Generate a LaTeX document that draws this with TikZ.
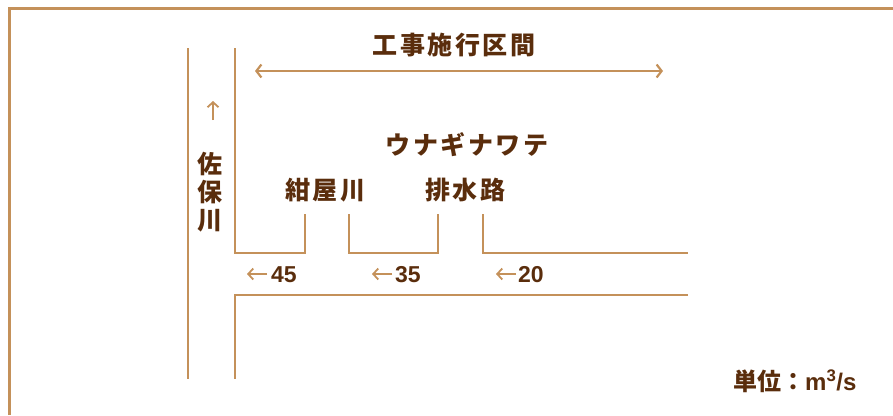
\documentclass[tikz,border=0pt]{standalone}
\usepackage{fontspec}
\usetikzlibrary{arrows.meta}
\newfontfamily\cjk{Noto Sans CJK JP}
\newfontfamily\cjksp{Noto Sans CJK JP}[LetterSpace=10]
\setmainfont{Liberation Sans}
\definecolor{bank}{HTML}{C4915A}
\definecolor{ink}{HTML}{5A2D0C}
\tikzset{
  bankline/.style={draw=bank, line width=2.2pt},
  lbl/.style={text=ink, font=\cjksp\bfseries\fontsize{25}{28}\selectfont, inner sep=0pt},
  flow/.style={text=ink, font=\bfseries\fontsize{23}{26}\selectfont, inner sep=0pt, anchor=west},
  smallarrow/.style={draw=bank, line width=1.8pt, -{Straight Barb[length=5pt,width=11pt]}},
  span/.style={draw=bank, line width=2.2pt, {Straight Barb[length=5pt,width=13pt]}-{Straight Barb[length=5pt,width=13pt]}}
}
\begin{document}
\begin{tikzpicture}[x=1pt,y=-1pt]
\useasboundingbox (0,0) rectangle (893,415);
% frame
\draw[bankline, line width=2.6pt] (9.5,415) -- (9.5,8.5) -- (893,8.5);
% Saho river banks
\draw[bankline] (188,48) -- (188,379);
\draw[bankline] (235,48) -- (235,253) -- (305,253) -- (305,214);
\draw[bankline] (349,214) -- (349,253) -- (438,253) -- (438,214);
\draw[bankline] (483,214) -- (483,253) -- (688,253);
\draw[bankline] (688,295) -- (235,295) -- (235,379);
% span arrow
\coordinate (sL) at (255,71);
\coordinate (sR) at (663,71);
\draw[span] (sL) -- (sR);
\node[lbl] (title) at (454,45) {工事施行区間};
% labels
\coordinate (upA) at (213,120);
\coordinate (upB) at (213,101);
\draw[smallarrow] (upA) -- (upB);
\node[lbl, align=center, font=\cjk\bfseries\fontsize{25}{28}\selectfont] (saho) at (210,192) {佐\\保\\川};
\node[lbl] (unagi) at (467,145) {ウナギナワテ};
\node[lbl] (konya) at (325,190) {紺屋川};
\node[lbl] (haisui) at (465,190) {排水路};
% flows
\node[flow] (f45) at (271,275) {45};
\node[flow] (f35) at (395,275) {35};
\node[flow] (f20) at (518,275) {20};
\coordinate (a45) at (267,274);
\coordinate (b45) at (247,274);
\coordinate (a35) at (392,274);
\coordinate (b35) at (372,274);
\coordinate (a20) at (516,274);
\coordinate (b20) at (496,274);
\draw[smallarrow] (a45) -- (b45);
\draw[smallarrow] (a35) -- (b35);
\draw[smallarrow] (a20) -- (b20);
% unit
\node[text=ink, inner sep=0pt, anchor=west] (unit) at (733,381) {{\cjk\bfseries\fontsize{24}{26}\selectfont 単位：}{\bfseries\fontsize{24}{26}\selectfont m\textsuperscript{3}/s}};
\end{tikzpicture}
\end{document}
